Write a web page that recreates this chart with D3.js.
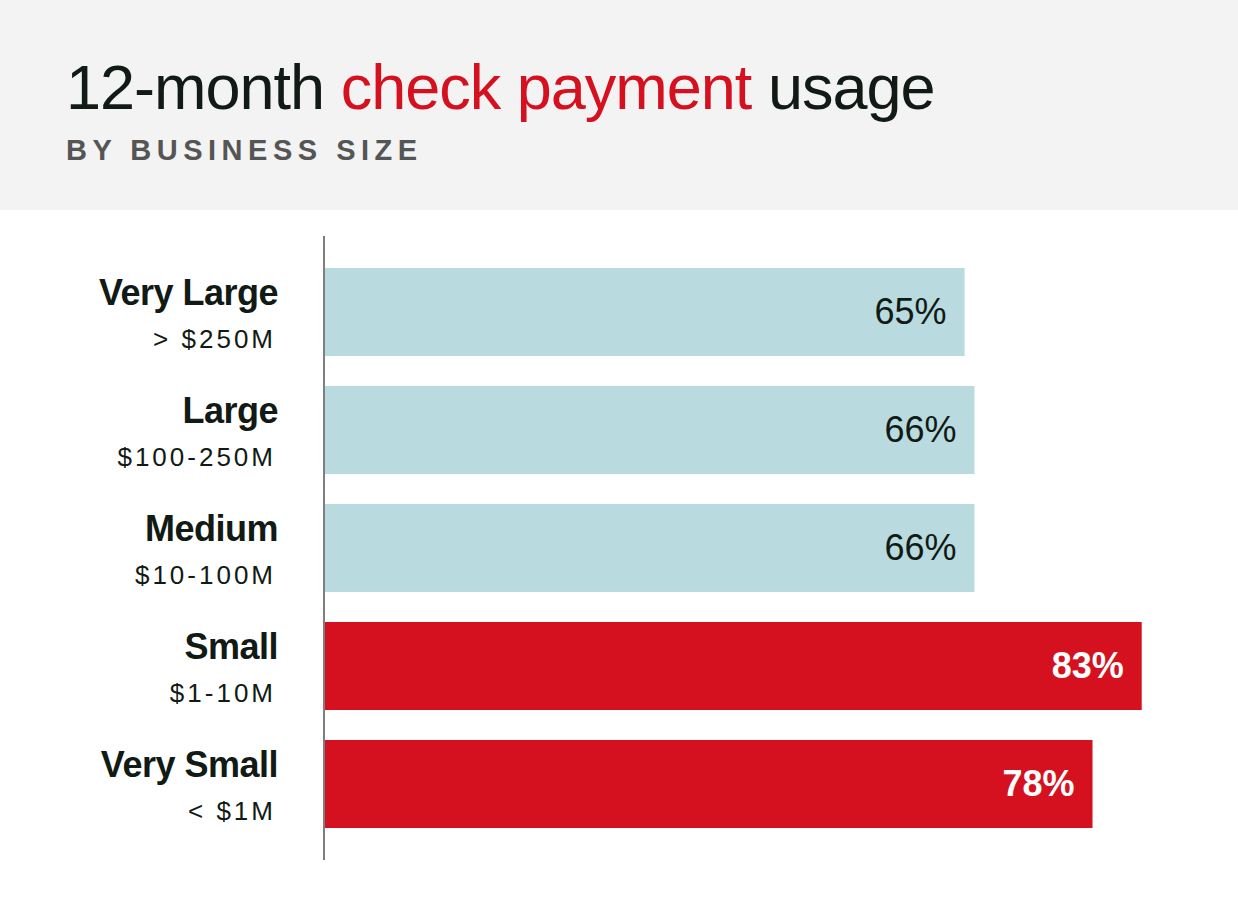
<!DOCTYPE html>
<html><head><meta charset="utf-8">
<script src="https://cdn.jsdelivr.net/npm/d3@7"></script>
<style>body{margin:0;background:#fff}svg{display:block;font-family:"Liberation Sans",Arial,sans-serif}</style>
</head><body><svg id="c" width="1238" height="900"></svg>
<script>
const categories = ["Very Large","Large","Medium","Small","Very Small"];
const ranges = ["> $250M","$100-250M","$10-100M","$1-10M","< $1M"];
const values = [65,66,66,83,78];
const highlight = [false,false,false,true,true];

const svg = d3.select("#c");
svg.append("rect").attr("width",1238).attr("height",210).attr("fill","#f3f3f3");
const t = svg.append("text").attr("x",66).attr("y",109).attr("font-size",63).attr("fill","#111a14").attr("letter-spacing",-1);
t.append("tspan").text("12-month ");
t.append("tspan").attr("fill","#d51120").text("check payment");
t.append("tspan").text(" usage");
svg.append("text").attr("x",66).attr("y",160).attr("font-size",29).attr("font-weight","bold")
  .attr("letter-spacing",5.5).attr("fill","#555").text("BY BUSINESS SIZE");

const x = d3.scaleLinear().domain([0,100]).range([325,1309]);
const y = d3.scaleBand().domain(categories).range([268-15,828+15]).paddingInner(30/118).paddingOuter(15/118);
// y bands: step 118, bandwidth 88
const yb = d3.scaleBand().domain(categories).range([253,843]).padding(0);
const bw = 88;
categories.forEach((c,i)=>{
  const top = yb(c)+15;
  svg.append("rect").attr("x",x(0)).attr("y",top).attr("width",x(values[i])-x(0)).attr("height",bw)
    .attr("fill",highlight[i]?"#d51120":"#b9dadf");
  svg.append("text").attr("x",x(values[i])-18).attr("y",top+bw/2+12).attr("text-anchor","end")
    .attr("font-size",36).attr("fill",highlight[i]?"#fff":"#111a14").attr("font-weight",highlight[i]?"bold":"normal")
    .text(values[i]+"%");
  svg.append("text").attr("x",278).attr("y",top+37).attr("text-anchor","end").attr("font-size",36)
    .attr("font-weight","bold").attr("letter-spacing",-0.5).attr("fill","#111a14").text(c);
  svg.append("text").attr("x",276).attr("y",top+80).attr("text-anchor","end").attr("font-size",26)
    .attr("letter-spacing",3).attr("fill","#111a14").text(ranges[i]);
});
svg.append("line").attr("x1",324).attr("x2",324).attr("y1",236).attr("y2",860).attr("stroke","#555").attr("stroke-width",1.5);
</script></body></html>
